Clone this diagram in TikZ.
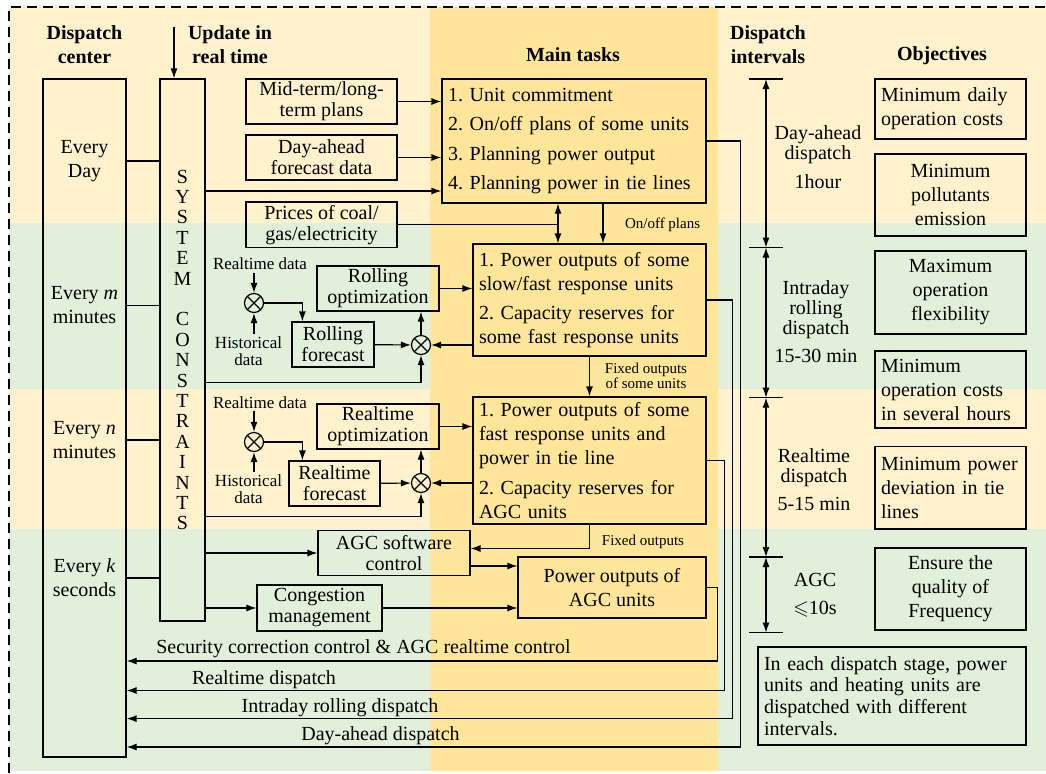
\documentclass[tikz,border=0pt]{standalone}
\usepackage{fontspec}
\setmainfont{Liberation Serif}
\usepackage{amssymb}
\usetikzlibrary{arrows.meta}
\frenchspacing

\definecolor{dayband}{HTML}{FFF2CC}
\definecolor{minband}{HTML}{E2EFDA}
\definecolor{taskcol}{HTML}{FFE699}

\tikzset{
  box/.style={draw, line width=0.6pt, inner sep=0pt, align=center},
  inbox/.style={box, font=\fontsize{10}{10.5}\selectfont},
  taskbox/.style={box, align=left, inner xsep=3pt},
  objbox/.style={box, minimum width=75.5pt},
  objleft/.style={objbox, text width=69.5pt, align=left, inner xsep=3pt},
  mixer/.style={circle, draw, line width=0.6pt, minimum size=9.5pt, inner sep=0pt,
    path picture={\draw[line width=0.6pt] (path picture bounding box.north west) -- (path picture bounding box.south east)
      (path picture bounding box.south west) -- (path picture bounding box.north east);}},
  colhead/.style={font=\bfseries, align=center},
  period/.style={align=center},
  datalabel/.style={font=\fontsize{8.5}{8.5}\selectfont, align=center, inner sep=1pt},
  flowlabel/.style={font=\fontsize{7.5}{7.5}\selectfont, align=center},
  spanlabel/.style={font=\fontsize{10}{10}\selectfont, align=center},
}

\begin{document}
\begin{tikzpicture}[x=0.5pt, y=-0.5pt, line width=0.6pt, >={Latex[length=5pt,width=3.5pt]}]
\useasboundingbox (0,0) rectangle (1046,773);
\fill[dayband] (9,7) rectangle (1046,222.5);
\fill[minband] (9,222.5) rectangle (1046,389);
\fill[dayband] (9,389) rectangle (1046,529);
\fill[minband] (9,529) rectangle (1046,771);
\fill[taskcol] (430,7) rectangle (718,771);
\draw[dash pattern=on 5pt off 3pt] (9,773) -- (9,7) -- (1046,7);

\node[colhead] (hcenter) at (84.5,45) {Dispatch\\center};
\node[colhead] (hupdate) at (230,45) {Update in\\real time};
\node[colhead] (htasks) at (573,55) {Main tasks};
\node[colhead] (hint) at (768,45) {Dispatch\\intervals};
\node[colhead] (hobj) at (942,56) {Objectives};

\node[box, minimum width=41.5pt, minimum height=339pt] (dc) at (84.5,418) {};
\node[period] (everyday) at (84.5,161) {Every\\Day};
\node[period] (everym) at (84.5,305.5) {Every \textit{m}\\minutes};
\node[period] (everyn) at (84.5,440) {Every \textit{n}\\minutes};
\node[period] (everyk) at (84.5,578) {Every \textit{k}\\seconds};

\node[box, minimum width=22.5pt, minimum height=271pt, font=\fontsize{10}{10.2}\selectfont] (sys) at (182.5,350)
  {S\\Y\\S\\T\\E\\M\\[10.2pt]C\\O\\N\\S\\T\\R\\A\\I\\N\\T\\S};
\coordinate (upd) at (174,27);
\draw[->] (upd) -- (upd |- sys.north);

\draw (dc.east |- everyday) -- (sys.west |- everyday);
\draw (dc.east |- everym) -- (sys.west |- everym);
\draw (dc.east |- everyn) -- (sys.west |- everyn);
\draw (dc.east |- everyk) -- (sys.west |- everyk);

\node[inbox, minimum width=75.5pt, minimum height=22.5pt] (midterm) at (321.5,101.5) {Mid-term/long-\\term plans};
\node[inbox, minimum width=75.5pt, minimum height=22.5pt] (dayfc) at (321.5,157.5) {Day-ahead\\forecast data};
\node[inbox, minimum width=75.5pt, minimum height=22.75pt] (prices) at (321.5,224.75) {Prices of coal/\\gas/electricity};

\node[taskbox, text width=126pt, minimum height=62pt, font=\fontsize{10}{14.65}\selectfont] (daytask) at (574,141)
  {1. Unit commitment\\2. On/off plans of some units\\3. Planning power output\\4. Planning power in tie lines};
\node[taskbox, text width=110.5pt, minimum height=56pt] (rolltask) at (589.5,300)
  {1. Power outputs of some\\slow/fast response units\\[2.5pt]2. Capacity reserves for\\some fast response units};
\node[taskbox, text width=110.5pt, minimum height=63.5pt] (rttask) at (589.5,460.5)
  {1. Power outputs of some\\fast response units and\\power in tie line\\[3pt]2. Capacity reserves for\\AGC units};
\node[box, minimum width=94pt, minimum height=30.5pt] (agcout) at (612,587.5) {Power outputs of\\AGC units};

\draw[->] (midterm) -- (midterm -| daytask.west);
\draw[->] (dayfc) -- (dayfc -| daytask.west);
\draw[->] (sys.east |- 0,191) -- (daytask.west |- 0,191);
\coordinate (plantop) at ([xshift=-8pt]daytask.south);
\coordinate (onofftop) at ([xshift=14.5pt]daytask.south);
\draw[<->] (plantop) -- (plantop |- rolltask.north);
\draw (prices) -- (prices -| plantop);
\draw[->] (onofftop) -- (onofftop |- rolltask.north);
\node[flowlabel] (lonoff) at (662.6,225) {On/off plans};

\node[inbox, minimum width=61pt, minimum height=22.5pt] (ropt) at (378,288.5) {Rolling\\optimization};
\node[inbox, minimum width=41pt, minimum height=22.5pt] (rfore) at (333,344.5) {Rolling\\forecast};
\node[mixer] (c1) at (254,303) {};
\node[mixer] (c2) at (421,345) {};
\node[datalabel] (rtd1) at (260,264) {Realtime data};
\node[datalabel] (hist1) at (248.5,351.5) {Historical\\data};
\draw[->] (c1 |- rtd1.south) -- (c1);
\draw[->] (c1 |- hist1.north) -- (c1);
\draw[->] (c1) -| ([xshift=5.5pt]rfore.north west);
\draw[->] (rfore) -- (c2);
\draw[->] (c2) -- (c2 |- ropt.south);
\draw[->] (rolltask.west |- c2) -- (c2);
\draw[->] (ropt) -- (ropt -| rolltask.west);
\draw[->] (sys.east |- 0,382.5) -| (c2);

\draw[->] (rolltask) -- (rttask);
\node[flowlabel] (lfixed) at (646,376) {Fixed outputs\\of some units};

\node[inbox, minimum width=61pt, minimum height=22.5pt] (tropt) at (378,426.5) {Realtime\\optimization};
\node[inbox, minimum width=45.5pt, minimum height=22.5pt] (tfore) at (334.5,483.5) {Realtime\\forecast};
\node[mixer] (c3) at (254,442) {};
\node[mixer] (c4) at (421,483) {};
\node[datalabel] (rtd2) at (260,402.3) {Realtime data};
\node[datalabel] (hist2) at (248.5,489.5) {Historical\\data};
\draw[->] (c3 |- rtd2.south) -- (c3);
\draw[->] (c3 |- hist2.north) -- (c3);
\draw[->] (c3) -| ([xshift=7pt]tfore.north west);
\draw[->] (tfore) -- (c4);
\draw[->] (c4) -- (c4 |- tropt.south);
\draw[->] (rttask.west |- c4) -- (c4);
\draw[->] (tropt) -- (tropt -| rttask.west);
\draw[->] (sys.east |- 0,516.4) -| (c4);

\node[inbox, minimum width=76pt, minimum height=22.5pt] (agcsw) at (394,553) {AGC software\\control};
\node[inbox, minimum width=62.5pt, minimum height=23pt] (cong) at (319.5,608) {Congestion\\management};
\draw[->] (sys.east |- agcsw) -- (agcsw);
\draw[->] (sys.east |- cong) -- (cong);
\draw[->] (rttask.south) |- ([yshift=2.25pt]agcsw.east);
\node[flowlabel] (lfixed2) at (643,541.7) {Fixed outputs};
\draw[->] ([yshift=-6.5pt]agcsw.east) -- ([yshift=-6.5pt]agcsw.east -| agcout.west);
\draw[->] (cong) -- (cong -| agcout.west);

\draw[->] (agcout.east) -- ++(5.5pt,0) |- (dc.east |- 0,661);
\draw[->] (rttask.east) -- ++(9pt,0) |- (dc.east |- 0,690.5);
\draw[->] (rolltask.east) -- ++(13pt,0) |- (dc.east |- 0,718.6);
\draw[->] (daytask.east) -- ++(17pt,0) |- (dc.east |- 0,747);
\node (lsecurity) at (363.5,649) {Security correction control \& AGC realtime control};
\node (lrealtime) at (264,680) {Realtime dispatch};
\node (lintraday) at (340,707.5) {Intraday rolling dispatch};
\node (ldayahead) at (380.5,736) {Day-ahead dispatch};

\coordinate (t0) at (766,79);
\coordinate (t1) at (766,247.5);
\coordinate (t2) at (766,397.7);
\coordinate (t3) at (766,557);
\coordinate (t4) at (766,632.5);
\foreach \i in {0,...,4}
  \draw ([xshift=-8.5pt]t\i) -- ([xshift=8.5pt]t\i);
\foreach \a/\b in {0/1,1/2,2/3,3/4}
  \draw[<->] (t\a) -- (t\b);
\node[spanlabel] (sdayahead) at (818,157.5) {Day-ahead\\dispatch\\[4.5pt]1hour};
\node[spanlabel] (sintraday) at (816,322) {Intraday\\rolling\\dispatch\\[4pt]15-30 min};
\node[spanlabel] (srealtime) at (814,479.5) {Realtime\\dispatch\\[3.75pt]5-15 min};
\node[spanlabel] (sagc) at (815,595) {AGC\\[4.25pt]$\leqslant$10s};

\node[objleft, minimum height=30pt] (obj1) at (950.5,109) {Minimum daily\\operation costs};
\node[objbox, minimum height=41pt] (obj2) at (950.5,195) {Minimum\\pollutants\\emission};
\node[objbox, minimum height=41.5pt] (obj3) at (950.5,292.5) {Maximum\\operation\\flexibility};
\node[objleft, minimum height=38.5pt] (obj4) at (950.5,389.5) {Minimum\\operation costs\\in several hours};
\node[objleft, minimum height=41.25pt] (obj5) at (950.5,487.75) {Minimum power\\deviation in tie\\lines};
\node[objbox, minimum height=41pt] (obj6) at (950.5,589) {Ensure the\\quality of\\Frequency};
\node[box, text width=128pt, align=left, inner xsep=3pt, minimum height=49pt, font=\fontsize{10}{10.9}\selectfont] (remark) at (892,696)
  {In each dispatch stage, power\\units and heating units are\\dispatched with different\\intervals.};
\end{tikzpicture}
\end{document}
